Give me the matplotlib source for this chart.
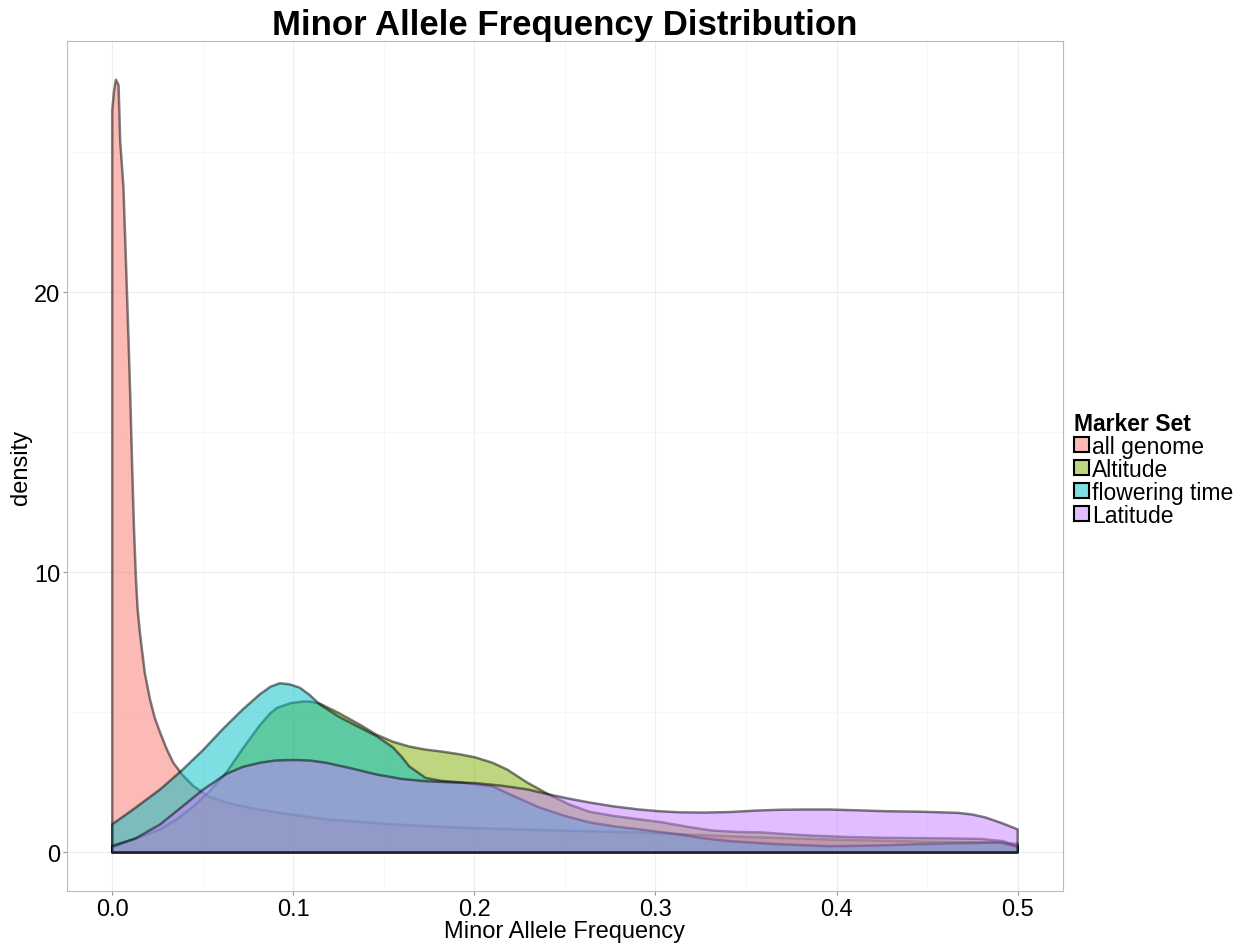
import numpy as np
import matplotlib
matplotlib.use("Agg")
import matplotlib.pyplot as plt
from matplotlib.patches import Patch

plt.rcParams['font.family'] = ['Liberation Sans', 'DejaVu Sans']

# density curves (x = minor allele frequency, d = density)
all_genome_x = [0.0, 0.001, 0.002, 0.0035, 0.0044, 0.0062, 0.0081, 0.009, 0.010, 0.011, 0.012,
                0.013, 0.014, 0.0152, 0.0164, 0.018, 0.0209, 0.0235, 0.0265, 0.030, 0.0337,
                0.039, 0.0448, 0.053, 0.0632, 0.077, 0.091, 0.118, 0.155, 0.192,
                0.247, 0.291, 0.35, 0.4, 0.45, 0.49, 0.5]
all_genome_d = [26.5, 27.2, 27.6, 27.4, 25.4, 23.75, 20.07, 18.3, 16.2, 13.8, 11.6,
                9.9, 8.7, 7.9, 7.24, 6.4, 5.45, 4.8, 4.27, 3.7, 3.2,
                2.75, 2.37, 2.0, 1.77, 1.58, 1.42, 1.18, 1.0, 0.88,
                0.78, 0.71, 0.55, 0.45, 0.38, 0.35, 0.3]

altitude_x = [0.0, 0.0135, 0.0265, 0.036, 0.045, 0.054, 0.063, 0.072, 0.0816, 0.087, 0.091,
              0.0985, 0.1055, 0.11, 0.115, 0.125, 0.137, 0.146, 0.155, 0.164, 0.173, 0.182,
              0.192, 0.2, 0.21, 0.218, 0.229, 0.241, 0.252, 0.2635, 0.277, 0.291, 0.304,
              0.317, 0.331, 0.345, 0.359, 0.372, 0.386, 0.405, 0.427, 0.46, 0.48, 0.492, 0.5]
altitude_d = [0.25, 0.5, 0.82, 1.2, 1.65, 2.2, 2.85, 3.7, 4.55, 4.95, 5.16,
              5.33, 5.39, 5.38, 5.3, 4.98, 4.55, 4.2, 3.95, 3.78, 3.67, 3.6,
              3.5, 3.4, 3.2, 2.96, 2.5, 2.07, 1.72, 1.45, 1.3, 1.18, 1.07,
              0.92, 0.78, 0.73, 0.71, 0.65, 0.6, 0.55, 0.52, 0.5, 0.48, 0.4, 0.2]

flowering_x = [0.0, 0.013, 0.0265, 0.038, 0.0504, 0.061, 0.072, 0.0816, 0.0875, 0.0926, 0.098,
               0.1036, 0.109, 0.1147, 0.125, 0.137, 0.146, 0.155, 0.16, 0.164, 0.173, 0.182,
               0.192, 0.21, 0.222, 0.236, 0.25, 0.2635, 0.277, 0.291, 0.313, 0.327, 0.341,
               0.368, 0.396, 0.42, 0.445, 0.47, 0.49, 0.5]
flowering_d = [1.0, 1.6, 2.25, 2.9, 3.67, 4.4, 5.1, 5.65, 5.92, 6.04, 6.0,
               5.88, 5.62, 5.28, 4.85, 4.45, 4.15, 3.75, 3.4, 3.07, 2.66, 2.55,
               2.5, 2.36, 2.0, 1.6, 1.3, 1.07, 0.93, 0.82, 0.64, 0.5, 0.4,
               0.29, 0.22, 0.24, 0.29, 0.33, 0.35, 0.2]

latitude_x = [0.0, 0.013, 0.0265, 0.038, 0.0504, 0.063, 0.072, 0.0816, 0.09, 0.1, 0.109,
              0.118, 0.132, 0.146, 0.16, 0.173, 0.187, 0.201, 0.215, 0.229, 0.241, 0.252,
              0.2635, 0.277, 0.291, 0.302, 0.313, 0.327, 0.341, 0.355, 0.368, 0.382, 0.396,
              0.412, 0.427, 0.447, 0.467, 0.475, 0.482, 0.491, 0.5]
latitude_d = [0.2, 0.5, 1.0, 1.6, 2.25, 2.8, 3.05, 3.2, 3.28, 3.3, 3.28,
              3.2, 3.0, 2.78, 2.62, 2.54, 2.5, 2.47, 2.38, 2.25, 2.07, 1.92,
              1.78, 1.64, 1.53, 1.47, 1.43, 1.42, 1.44, 1.49, 1.52, 1.53, 1.53,
              1.5, 1.47, 1.45, 1.41, 1.35, 1.25, 1.05, 0.82]

labels = ['all genome', 'Altitude', 'flowering time', 'Latitude']
colors = ['#F8766D', '#7CAE00', '#00BFC4', '#C77CFF']
series = [(all_genome_x, all_genome_d), (altitude_x, altitude_d),
          (flowering_x, flowering_d), (latitude_x, latitude_d)]

fig = plt.figure(figsize=(12.47, 9.45), dpi=100)
ax = fig.add_axes([0.0537, 0.0561, 0.7987, 0.8995])

for (x, d), c in zip(series, colors):
    px = np.concatenate([[x[0]], x, [x[-1]]])
    py = np.concatenate([[0], d, [0]])
    ax.fill(px, py, facecolor=matplotlib.colors.to_rgba(c, 0.5),
            edgecolor=(0, 0, 0, 0.5), linewidth=1.8, joinstyle='round')

ax.set_xlim(-0.025, 0.525)
ax.set_ylim(-1.38, 28.98)
ax.set_xticks([0.0, 0.1, 0.2, 0.3, 0.4, 0.5])
ax.set_xticklabels(['0.0', '0.1', '0.2', '0.3', '0.4', '0.5'])
ax.set_yticks([0, 10, 20])
ax.set_xticks([0.05, 0.15, 0.25, 0.35, 0.45], minor=True)
ax.set_yticks([5, 15, 25], minor=True)
ax.grid(True, which='major', color='#EDEDED', linewidth=0.8)
ax.grid(True, which='minor', color='#F6F6F6', linewidth=0.6)
ax.set_axisbelow(True)
ax.tick_params(which='major', length=3, color='#999999', labelsize=17, pad=2, labelcolor='black')
ax.tick_params(which='minor', length=0)
for s in ax.spines.values():
    s.set_color('#BBBBBB')
    s.set_linewidth(0.8)

ax.set_xlabel('Minor Allele Frequency', fontsize=17, labelpad=0)
ax.set_ylabel('density', fontsize=17, labelpad=1)
ax.set_title('Minor Allele Frequency Distribution', fontsize=25, fontweight='bold', pad=2)

handles = [Patch(facecolor=matplotlib.colors.to_rgba(c, 0.5), edgecolor='black', linewidth=1.5)
           for c in colors]
leg = ax.legend(handles, labels, title='Marker Set', loc='center left',
                bbox_to_anchor=(1.0, 0.496), frameon=False, fontsize=16.5,
                title_fontproperties={'weight': 'bold', 'size': 16.5},
                handlelength=0.64, handleheight=0.64, handletextpad=0.12,
                labelspacing=0.0, borderaxespad=0.1, alignment='left')

fig.savefig('out.png', dpi=100)
